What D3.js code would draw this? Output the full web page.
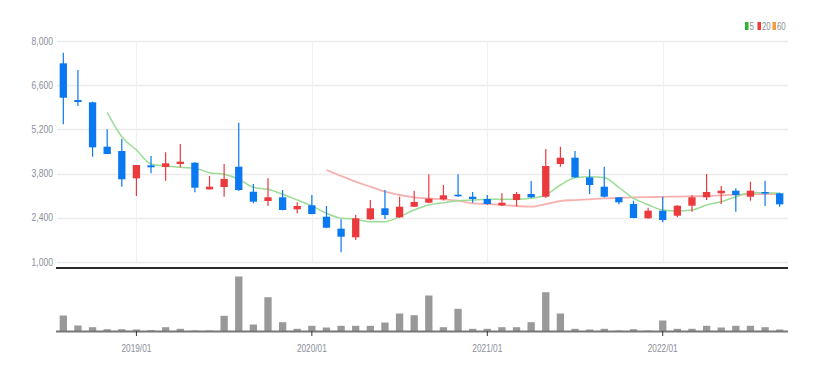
<!DOCTYPE html>
<html><head><meta charset="utf-8">
<script src="https://cdn.jsdelivr.net/npm/d3@7"></script>
<style>
html,body{margin:0;padding:0;background:#fff;}
svg text{font-family:"Liberation Sans Narrow","Liberation Sans",Arial,sans-serif;fill:#8a8f98;}
</style></head>
<body><svg id="c" width="825" height="373"></svg>
<script>
const months = ["2018/08","2018/09","2018/10","2018/11","2018/12","2019/01","2019/02","2019/03","2019/04","2019/05","2019/06","2019/07","2019/08","2019/09","2019/10","2019/11","2019/12","2020/01","2020/02","2020/03","2020/04","2020/05","2020/06","2020/07","2020/08","2020/09","2020/10","2020/11","2020/12","2021/01","2021/02","2021/03","2021/04","2021/05","2021/06","2021/07","2021/08","2021/09","2021/10","2021/11","2021/12","2022/01","2022/02","2022/03","2022/04","2022/05","2022/06","2022/07","2022/08","2022/09"];
const openV  = [7293,6130,6058,4652,4515,3651,4062,4008,4104,4145,3302,3375,4018,3226,2932,3049,2669,2796,2435,2055,1782,2352,2701,2415,2751,2878,2986,3132,3068,2995,2796,2963,3154,3068,4104,4303,3682,3385,3049,2837,2384,2625,2466,2783,3049,3176,3258,3068,3217,3176];
const closeV = [6203,6066,4632,4420,3620,4072,3999,4126,4177,3353,3385,3629,3280,2910,3049,2647,2774,2520,2086,1801,2384,2701,2488,2751,2900,3005,3112,3081,2995,2837,2878,3154,3049,4040,4303,3682,3439,3068,2891,2394,2625,2330,2783,3049,3217,3258,3122,3258,3176,2827];
const highV  = [7629,7080,6080,5203,4895,4072,4357,4474,4737,4160,3724,4104,5412,3470,3651,3280,2891,3122,2774,2352,2488,2963,3280,3068,3258,3777,3439,3777,3217,3122,3176,3217,3565,4579,4652,4515,3936,4018,3060,2941,2720,3068,2800,3122,3787,3407,3334,3543,3575,3190];
const lowV   = [5361,5940,4335,4420,3385,3090,3809,3575,3999,3207,3290,3068,3250,2859,2774,2640,2542,2510,2070,1307,1697,2330,2362,2400,2740,2860,2950,3070,2878,2810,2770,2760,3030,3030,4018,3670,3154,3040,2827,2390,2370,2257,2415,2593,2963,2837,2593,2941,2774,2751];
const volumeV = [1600,600,430,230,230,200,130,430,270,100,100,1570,5500,700,3430,930,270,570,400,570,570,570,900,1800,1630,3600,430,2270,270,270,430,430,930,3930,1800,270,200,270,100,230,100,1100,270,270,570,400,570,570,430,200];
// moving averages (null = not drawn)
const ma5 = [null,null,null,5741,4968,4547,4104,4040,3999,3967,3828,3777,3619,3365,3302,3144,2963,2774,2542,2384,2352,2276,2276,2435,2647,2805,2878,2941,2963,2986,2986,2986,3017,3122,3439,3670,3702,3680,3360,3020,2815,2647,2615,2647,2805,2910,3068,3195,3195,3176];
const ma20 = [null,null,null,null,null,null,null,null,null,null,null,null,null,null,null,null,null,null,3914,3724,3543,3385,3226,3122,3049,3011,2986,2941,2859,2837,2805,2774,2751,2837,2932,2963,2986,3017,3030,3045,3055,3065,3072,3080,3090,3112,3132,3144,3154,3154];
const yTicks = [1000,2400,3800,5200,6600,8000];
const xTickLabels = ["2019/01","2020/01","2021/01","2022/01"];
const legendItems = [{name:"5",color:"#2fb52f"},{name:"20",color:"#ee3b3b"},{name:"60",color:"#f5993a"}];

const svg = d3.select("#c");
const L = 56, R = 787;
const x = d3.scaleBand().domain(months).range([L, R]).paddingInner(0.5).paddingOuter(0.25);
const cx = d => x(d) + x.bandwidth()/2;
const y = d3.scaleLinear().domain([1000, 8000]).range([262, 41]);
const yv = d3.scaleLinear().domain([0, 5600]).range([331.5, 275.5]);
const UP = "#ea3a3e", DOWN = "#0a78f0";

// horizontal grid + y labels
const gy = svg.append("g");
gy.selectAll("line").data(yTicks).join("line")
  .attr("x1", 57).attr("x2", 788).attr("y1", d => Math.round(y(d))+0.5).attr("y2", d => Math.round(y(d))+0.5)
  .attr("stroke", "#ececec").attr("stroke-width", 1.5);
gy.selectAll("text").data(yTicks).join("text")
  .attr("transform", d => `translate(53,${y(d)+3.5}) scale(0.78,1)`)
  .attr("text-anchor", "end").attr("font-size", 11)
  .text(d => d3.format(",")(d));

// vertical grid at year ticks
svg.append("g").selectAll("line").data(xTickLabels).join("line")
  .attr("x1", d => Math.round(cx(d))+0.5).attr("x2", d => Math.round(cx(d))+0.5)
  .attr("y1", 41).attr("y2", 262).attr("stroke", "#f0f0f0").attr("stroke-width", 1);

// MA lines
const lineGen = d3.line().defined(d => d.v != null).x(d => cx(d.m)).y(d => y(d.v)).curve(d3.curveMonotoneX);
svg.append("path").datum(months.map((m,i)=>({m, v: ma20[i]})))
  .attr("d", lineGen).attr("fill","none").attr("stroke","#f7b1b1").attr("stroke-width",1.8);
svg.append("path").datum(months.map((m,i)=>({m, v: ma5[i]})))
  .attr("d", lineGen).attr("fill","none").attr("stroke","#9bdd97").attr("stroke-width",1.5);

// candles
const data = months.map((m,i)=>({m, o:openV[i], c:closeV[i], h:highV[i], l:lowV[i], v:volumeV[i]}));
const cg = svg.append("g");
cg.selectAll("line").data(data).join("line")
  .attr("x1", d => cx(d.m)).attr("x2", d => cx(d.m))
  .attr("y1", d => y(d.h)).attr("y2", d => y(d.l))
  .attr("stroke", d => d.c >= d.o ? UP : DOWN).attr("stroke-width", 1.2);
cg.selectAll("rect").data(data).join("rect")
  .attr("x", d => x(d.m)).attr("width", x.bandwidth())
  .attr("y", d => y(Math.max(d.o,d.c)))
  .attr("height", d => Math.max(1.5, Math.abs(y(d.o)-y(d.c))))
  .attr("fill", d => d.c >= d.o ? UP : DOWN);

// separator line
svg.append("line").attr("x1",56).attr("x2",788).attr("y1",268).attr("y2",268).attr("stroke","#2a2a2a").attr("stroke-width",2);

// volume bars
svg.append("g").selectAll("rect").data(data).join("rect")
  .attr("x", d => x(d.m)).attr("width", x.bandwidth())
  .attr("y", d => yv(d.v)).attr("height", d => yv(0)-yv(d.v))
  .attr("fill", "#999999");
svg.append("line").attr("x1",56).attr("x2",788).attr("y1",331.5).attr("y2",331.5).attr("stroke","#777").attr("stroke-width",2);

// x axis ticks + labels
const xg = svg.append("g");
xg.selectAll("line").data(xTickLabels).join("line")
  .attr("x1", d => cx(d)).attr("x2", d => cx(d)).attr("y1", 331).attr("y2", 336)
  .attr("stroke","#333").attr("stroke-width",1);
xg.selectAll("text").data(xTickLabels).join("text")
  .attr("transform", d => `translate(${cx(d)},352) scale(0.72,1)`)
  .attr("text-anchor","middle").attr("font-size",11.5).text(d => d);

// legend
const lg = svg.append("g");
let lx = 745;
legendItems.forEach(it => {
  lg.append("rect").attr("x", lx).attr("y", 22).attr("width", 3.5).attr("height", 8).attr("fill", it.color);
  lg.append("text").attr("transform", `translate(${lx+4.5},30) scale(0.75,1)`).attr("font-size", 10.5).text(it.name);
  lx += it.name.length === 1 ? 12.5 : 15;
});
</script></body></html>
